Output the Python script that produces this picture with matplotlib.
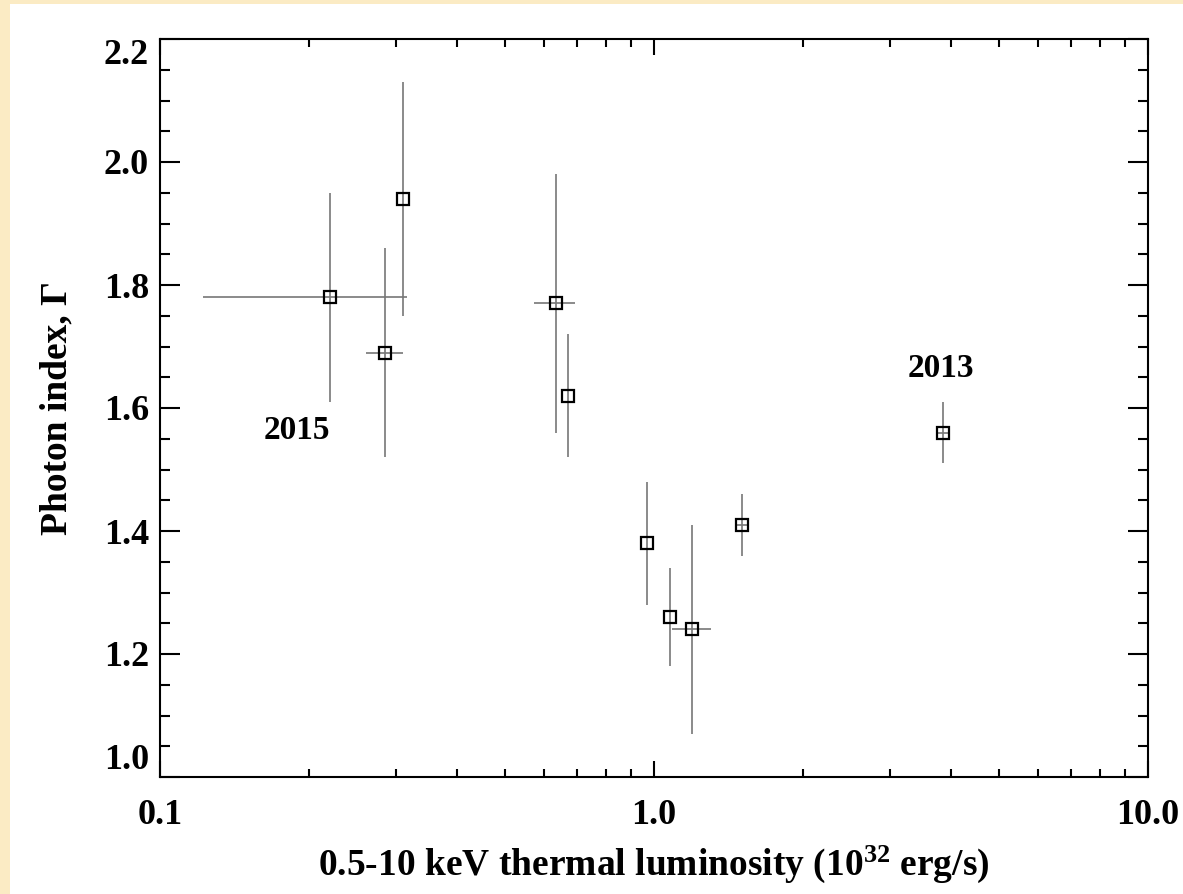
import matplotlib
matplotlib.use("Agg")
import matplotlib.pyplot as plt
from matplotlib.patches import Rectangle
from matplotlib.ticker import FixedLocator, FixedFormatter, NullFormatter

# ---- data ----
lum = [0.221, 0.286, 0.310, 0.632, 0.670, 0.966, 1.075, 1.195, 1.509, 3.84]
lum_lo = [0.122, 0.2616, 0.310, 0.571, 0.670, 0.966, 1.075, 1.085, 1.463, 3.74]
lum_hi = [0.3166, 0.3108, 0.310, 0.693, 0.670, 0.966, 1.075, 1.302, 1.555, 3.96]
gamma = [1.78, 1.69, 1.94, 1.77, 1.62, 1.38, 1.26, 1.24, 1.41, 1.56]
gamma_lo = [1.61, 1.52, 1.75, 1.56, 1.52, 1.28, 1.18, 1.07, 1.36, 1.51]
gamma_hi = [1.95, 1.86, 2.13, 1.98, 1.72, 1.48, 1.34, 1.41, 1.46, 1.61]
annotations = [("2015", 0.189, 1.564), ("2013", 3.81, 1.665)]
xticks = [0.1, 1.0, 10.0]
xtick_labels = ["0.1", "1.0", "10.0"]
yticks = [1.0, 1.2, 1.4, 1.6, 1.8, 2.0, 2.2]
ytick_labels = ["1.0", "1.2", "1.4", "1.6", "1.8", "2.0", "2.2"]

plt.rcParams['font.family'] = ['Liberation Serif', 'DejaVu Serif']
plt.rcParams['font.weight'] = 'bold'
plt.rcParams['mathtext.fontset'] = 'custom'
plt.rcParams['mathtext.rm'] = 'Liberation Serif:bold'
plt.rcParams['mathtext.it'] = 'Liberation Serif:bold'
plt.rcParams['mathtext.bf'] = 'Liberation Serif:bold'

fig = plt.figure(figsize=(11.83, 8.94), dpi=100)
fig.patch.set_facecolor('white')
cream = '#FBEBC4'
fig.patches.append(Rectangle((0, 0), 10 / 1183, 1, transform=fig.transFigure,
                             facecolor=cream, edgecolor='none', zorder=-10))
fig.patches.append(Rectangle((0, 1 - 4 / 894), 1, 4 / 894, transform=fig.transFigure,
                             facecolor=cream, edgecolor='none', zorder=-10))

ax = fig.add_axes([160 / 1183, 117 / 894, (1148 - 160) / 1183, (777 - 39) / 894])
ax.set_xscale('log')
ax.set_xlim(0.1, 10.0)
ax.set_ylim(1.0, 2.2)

xerr = [[l - lo for l, lo in zip(lum, lum_lo)], [hi - l for l, hi in zip(lum, lum_hi)]]
yerr = [[g - lo for g, lo in zip(gamma, gamma_lo)], [hi - g for g, hi in zip(gamma, gamma_hi)]]
ax.errorbar(lum, gamma, xerr=xerr, yerr=yerr, fmt='none', ecolor='#777777',
            elinewidth=1.2, capsize=0, zorder=2)
ax.plot(lum, gamma, linestyle='none', marker='s', markersize=8,
        markerfacecolor='none', markeredgecolor='black', markeredgewidth=1.6, zorder=3)

for txt, x, y in annotations:
    ax.text(x, y, txt, fontsize=24, fontweight='bold', ha='center', va='center')

# ticks
ax.xaxis.set_major_locator(FixedLocator(xticks))
ax.xaxis.set_major_formatter(FixedFormatter(xtick_labels))
minor_x = [m * d for d in (0.1, 1.0) for m in range(2, 10)]
ax.xaxis.set_minor_locator(FixedLocator(minor_x))
ax.xaxis.set_minor_formatter(NullFormatter())
ax.yaxis.set_major_locator(FixedLocator(yticks))
ax.yaxis.set_major_formatter(FixedFormatter(ytick_labels))
ax.yaxis.set_minor_locator(FixedLocator([1.0 + 0.05 * i for i in range(25)]))

ax.tick_params(axis='x', which='major', direction='in', length=11.5, width=1.5,
               top=True, bottom=True, labelsize=26, pad=16)
ax.tick_params(axis='x', which='minor', direction='in', length=5.8, width=1.5,
               top=True, bottom=True)
ax.tick_params(axis='y', which='major', direction='in', length=14.4, width=1.5,
               left=True, right=True, labelsize=26, pad=8)
ax.tick_params(axis='y', which='minor', direction='in', length=7.2, width=1.5,
               left=True, right=True)
for lab in ax.get_xticklabels() + ax.get_yticklabels():
    lab.set_fontweight('bold')
ylabs = ax.get_yticklabels()
ylabs[0].set_va('bottom')
ylabs[-1].set_va('top')

for s in ax.spines.values():
    s.set_linewidth(1.5)

ax.set_xlabel(r"0.5-10 keV thermal luminosity (10$^{32}$ erg/s)", fontsize=27,
              fontweight='bold', labelpad=8)
ax.set_ylabel("Photon index, Γ", fontsize=27, fontweight='bold', labelpad=21)

fig.savefig("out.png", dpi=100, facecolor=fig.get_facecolor())
